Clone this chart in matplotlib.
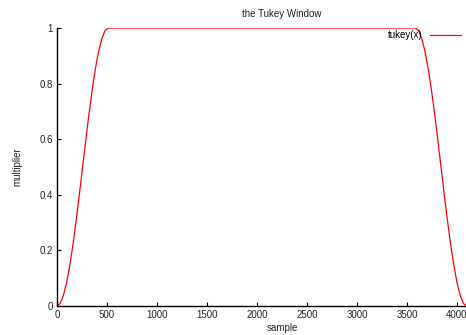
import matplotlib
matplotlib.use('Agg')
import matplotlib.pyplot as plt

plt.rcParams['font.family'] = ['Liberation Sans', 'DejaVu Sans']
plt.rcParams['font.size'] = 7

# values (rising taper, flat top, falling taper)
sample = [0, 32, 64, 96, 128, 160, 192, 224, 256, 288, 320, 352, 384, 416, 448, 480, 512,
          3584, 3616, 3648, 3680, 3712, 3744, 3776, 3808, 3840, 3872, 3904, 3936, 3968,
          4000, 4032, 4064, 4096]
multiplier = [0.0, 0.0096, 0.0381, 0.0843, 0.1464, 0.2222, 0.3087, 0.4025, 0.5, 0.5975,
              0.6913, 0.7778, 0.8536, 0.9157, 0.9619, 0.9904, 1.0,
              1.0, 0.9904, 0.9619, 0.9157, 0.8536, 0.7778, 0.6913, 0.5975, 0.5,
              0.4025, 0.3087, 0.2222, 0.1464, 0.0843, 0.0381, 0.0096, 0.0]

xticks = [0, 500, 1000, 1500, 2000, 2500, 3000, 3500, 4000]
yticks = [0, 0.2, 0.4, 0.6, 0.8, 1]
ytick_labels = ['0', '0.2', '0.4', '0.6', '0.8', '1']

W, H = 466, 335
fig = plt.figure(figsize=(W / 100, H / 100), dpi=100)
ax = fig.add_axes([57 / W, (H - 306) / H, 450 / W, (306 - 28) / H])

ax.plot(sample, multiplier, color='#ff0000', lw=0.9, label='tukey(x)')

ax.set_xlim(0, 4500)
ax.set_ylim(0, 1)
ax.set_xticks(xticks)
ax.set_yticks(yticks)
ax.set_yticklabels(ytick_labels)
ax.tick_params(direction='in', length=3, width=0.8, pad=3, colors='black',
               labelcolor='#222222')
for s in ['top', 'right']:
    ax.spines[s].set_visible(False)
for s in ['left', 'bottom']:
    ax.spines[s].set_linewidth(1.0)

ax.set_title('the Tukey Window', fontsize=7, pad=8, color='#222222')
ax.set_xlabel('sample', labelpad=2, color='#222222')
ax.set_ylabel('multiplier', labelpad=12, color='#222222')

ax.legend(loc='upper right', bbox_to_anchor=(461 / W, 1 - 30 / H),
          bbox_transform=fig.transFigure, frameon=False, markerfirst=False,
          handlelength=3.2, handletextpad=0.8, borderaxespad=0, borderpad=0)

fig.savefig('out.png', dpi=100)
